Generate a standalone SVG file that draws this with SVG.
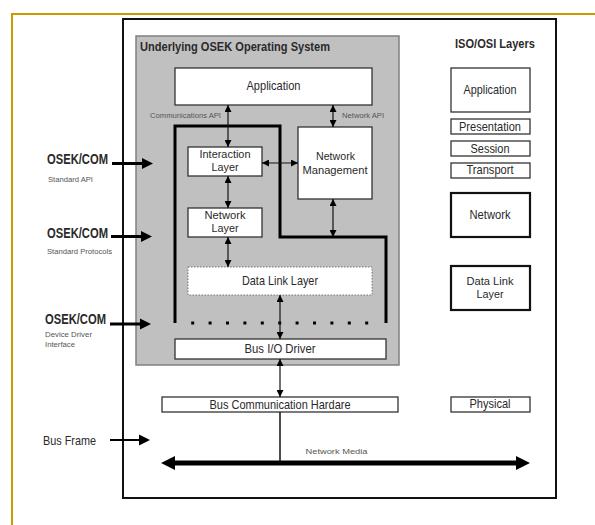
<svg xmlns="http://www.w3.org/2000/svg" width="595" height="525" viewBox="0 0 595 525">
<style>
text{font-family:"Liberation Sans",Arial,sans-serif;fill:#2a2a2a;}
.t{font-size:13px;text-anchor:middle;}
.t2{font-size:11.5px;text-anchor:middle;}
.b{font-weight:bold;}
.s{font-size:8px;fill:#555;}
.box{fill:#fff;stroke:#333;stroke-width:1.3;}
.thk{fill:#fff;stroke:#111;stroke-width:2.2;}
.c{stroke:#111;stroke-width:1.2;fill:none;}
.L{stroke:#000;stroke-width:3;fill:none;}
</style>
<defs>
<marker id="sm" viewBox="0 0 10 10" refX="10" refY="5" markerWidth="7" markerHeight="7" orient="auto-start-reverse" markerUnits="userSpaceOnUse"><path d="M0,0 L10,5 L0,10 z" fill="#000"/></marker>
<marker id="big" viewBox="0 0 10 10" refX="0" refY="5" markerWidth="11" markerHeight="12" orient="auto-start-reverse" markerUnits="userSpaceOnUse"><path d="M0,0 L10,5 L0,10 z" fill="#000"/></marker>
<marker id="huge" viewBox="0 0 10 10" refX="0" refY="5" markerWidth="14" markerHeight="18" orient="auto-start-reverse" markerUnits="userSpaceOnUse"><path d="M0,0 L10,5 L0,10 z" fill="#000"/></marker>
</defs>
<rect width="595" height="525" fill="#fff"/>
<rect x="12" y="14" width="600" height="520" fill="none" stroke="#cc9900" stroke-width="2"/>
<rect x="123" y="19" width="433" height="479" fill="none" stroke="#111" stroke-width="2"/>
<g id="os">
<rect x="136" y="36" width="263" height="329" fill="#c0c0c0" stroke="#808080" stroke-width="1.5"/>
<text x="140" y="51" class="b" font-size="12.5" textLength="190" lengthAdjust="spacingAndGlyphs">Underlying OSEK Operating System</text>
</g>
<g id="application">
<rect x="175" y="68" width="197" height="37" class="box"/>
<text x="273.5" y="90" class="t" textLength="54" lengthAdjust="spacingAndGlyphs">Application</text>
</g>
<g id="interaction-layer">
<rect x="188" y="147" width="74" height="29" class="box"/>
<text x="225" y="158" class="t2" textLength="51" lengthAdjust="spacingAndGlyphs">Interaction</text>
<text x="225" y="171" class="t2" textLength="27" lengthAdjust="spacingAndGlyphs">Layer</text>
</g>
<g id="network-management">
<rect x="298" y="127" width="74" height="72" class="box"/>
<text x="335.5" y="160" class="t2" textLength="39" lengthAdjust="spacingAndGlyphs">Network</text>
<text x="335" y="174" class="t2" textLength="65" lengthAdjust="spacingAndGlyphs">Management</text>
</g>
<g id="network-layer">
<rect x="188" y="208" width="74" height="29" class="box"/>
<text x="225" y="219" class="t2" textLength="41" lengthAdjust="spacingAndGlyphs">Network</text>
<text x="225" y="232" class="t2" textLength="27" lengthAdjust="spacingAndGlyphs">Layer</text>
</g>
<g id="data-link-layer">
<rect x="188" y="267" width="184" height="28" fill="#fff" stroke="#777" stroke-width="1" stroke-dasharray="1.5,1.5"/>
<text x="280" y="285" class="t" textLength="76" lengthAdjust="spacingAndGlyphs">Data Link Layer</text>
</g>
<g id="bus-io-driver">
<rect x="175" y="339" width="211" height="20" class="box"/>
<text x="280" y="353" class="t" textLength="71" lengthAdjust="spacingAndGlyphs">Bus I/O Driver</text>
</g>
<g id="bus-comm-hardware">
<rect x="162" y="397" width="236" height="15" class="box"/>
<text x="280" y="409" class="t" textLength="141" lengthAdjust="spacingAndGlyphs">Bus Communication Hardare</text>
</g>
<g id="iso-osi">
<text x="495" y="48" class="t b" font-size="12.5" textLength="80" lengthAdjust="spacingAndGlyphs">ISO/OSI Layers</text>
</g>
<g id="osi-application">
<rect x="451" y="68" width="79" height="44" class="box" stroke-width="1.5"/>
<text x="490" y="94" class="t" textLength="53" lengthAdjust="spacingAndGlyphs">Application</text>
</g>
<g id="osi-presentation">
<rect x="451" y="119" width="79" height="15" class="box"/>
<text x="490" y="131" class="t" textLength="62" lengthAdjust="spacingAndGlyphs">Presentation</text>
</g>
<g id="osi-session">
<rect x="451" y="141" width="79" height="15" class="box"/>
<text x="490" y="153" class="t" textLength="39" lengthAdjust="spacingAndGlyphs">Session</text>
</g>
<g id="osi-transport">
<rect x="451" y="163" width="79" height="15" class="box"/>
<text x="490" y="174" class="t" textLength="47" lengthAdjust="spacingAndGlyphs">Transport</text>
</g>
<g id="osi-network">
<rect x="451" y="193" width="79" height="44" class="thk"/>
<text x="490" y="219" class="t" textLength="41" lengthAdjust="spacingAndGlyphs">Network</text>
</g>
<g id="osi-data-link">
<rect x="451" y="266" width="79" height="44" class="thk"/>
<text x="490" y="285" class="t2" textLength="47" lengthAdjust="spacingAndGlyphs">Data Link</text>
<text x="490" y="298" class="t2" textLength="27" lengthAdjust="spacingAndGlyphs">Layer</text>
</g>
<g id="osi-physical">
<rect x="451" y="397" width="79" height="15" class="box"/>
<text x="490" y="408" class="t" textLength="41" lengthAdjust="spacingAndGlyphs">Physical</text>
</g>
<g id="left-labels">
<text x="47" y="164" class="b" font-size="14" textLength="61" lengthAdjust="spacingAndGlyphs">OSEK/COM</text>
<text x="48" y="182" class="s" textLength="45" lengthAdjust="spacingAndGlyphs">Standard API</text>
<text x="47" y="237.5" class="b" font-size="14" textLength="61" lengthAdjust="spacingAndGlyphs">OSEK/COM</text>
<text x="47" y="254" class="s" textLength="65" lengthAdjust="spacingAndGlyphs">Standard Protocols</text>
<text x="45" y="324" class="b" font-size="14" textLength="61" lengthAdjust="spacingAndGlyphs">OSEK/COM</text>
<text x="45" y="337" class="s" textLength="47" lengthAdjust="spacingAndGlyphs">Device Driver</text>
<text x="45" y="347" class="s" textLength="30" lengthAdjust="spacingAndGlyphs">Interface</text>
<text x="43" y="445" font-size="13" fill="#333" textLength="53" lengthAdjust="spacingAndGlyphs">Bus Frame</text>
</g>
<g id="boundary">
<path d="M175,323 V126 H280 V237 H386 V323" class="L"/>
<line x1="191.2" y1="323" x2="368.2" y2="323" stroke="#000" stroke-width="3" stroke-dasharray="3,14.4"/>
</g>
<g id="connectors">
<path d="M228,105 V147" class="c" marker-start="url(#sm)" marker-end="url(#sm)"/>
<text x="150" y="118" class="s" font-size="7.5" textLength="71" lengthAdjust="spacingAndGlyphs">Communications API</text>
<path d="M333,105 V127" class="c" marker-start="url(#sm)" marker-end="url(#sm)"/>
<text x="342" y="118" class="s" font-size="7.5" textLength="42" lengthAdjust="spacingAndGlyphs">Network API</text>
<path d="M262,163 H298" class="c" marker-start="url(#sm)" marker-end="url(#sm)"/>
<path d="M228,176 V208" class="c" marker-start="url(#sm)" marker-end="url(#sm)"/>
<path d="M228,237 V267" class="c" marker-start="url(#sm)" marker-end="url(#sm)"/>
<path d="M333,199 V237" class="c" marker-start="url(#sm)" marker-end="url(#sm)"/>
<path d="M280,295 V339" class="c" marker-start="url(#sm)" marker-end="url(#sm)"/>
<path d="M280,359 V397" class="c" marker-start="url(#sm)" marker-end="url(#sm)"/>
<path d="M280,412 V463" stroke="#111" stroke-width="1.5"/>
<path d="M112,163.5 H142" stroke="#000" stroke-width="3" marker-end="url(#big)"/>
<path d="M111,236.5 H141" stroke="#000" stroke-width="3" marker-end="url(#big)"/>
<path d="M110,324 H140" stroke="#000" stroke-width="3" marker-end="url(#big)"/>
<path d="M110,440 H139" stroke="#000" stroke-width="2" marker-end="url(#big)"/>
<path d="M175,463 H516" stroke="#000" stroke-width="5" marker-start="url(#huge)" marker-end="url(#huge)"/>
<text x="305.5" y="454" class="s" font-size="7.5" textLength="62" lengthAdjust="spacingAndGlyphs">Network Media</text>
</g>
</svg>
